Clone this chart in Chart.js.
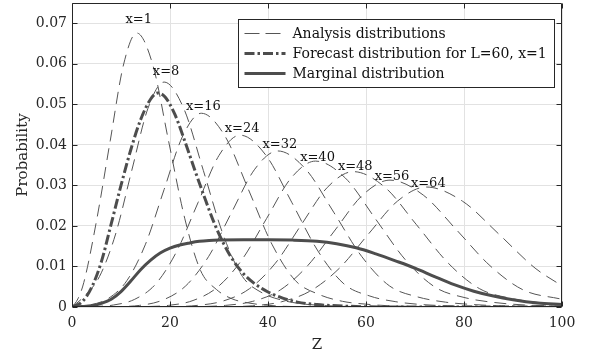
<!DOCTYPE html>
<html lang="en">
<head>
<meta charset="UTF-8">
<title>Analysis and forecast distributions</title>
<script src="https://cdn.jsdelivr.net/npm/chart.js@4"></script>
<style>
  html, body { margin: 0; padding: 0; background: #fff; }
</style>
</head>
<body>
<canvas id="chart" width="590" height="360"></canvas>
<script>
// Analysis distributions, one curve per x (Z values and probabilities)
const xLabels = [1, 8, 16, 24, 32, 40, 48, 56, 64];

const z_x1 = [0, 1.2, 2.4, 5.1, 7.8, 10.5, 13.2, 16.5, 19.7, 23.0, 26.2, 29.5, 32.7, 36.0, 39.2, 45.7, 100];
const p_x1 = [0, 0.0020, 0.0060, 0.0219, 0.0410, 0.0597, 0.0676, 0.0597, 0.0410, 0.0219, 0.0091, 0.0043, 0.0020, 0.0010, 0.0005, 0.0001, 0];

const z_x8 = [0, 2.3, 5.6, 8.9, 12.2, 15.5, 18.8, 22.8, 26.8, 30.8, 34.8, 38.8, 42.8, 46.8, 50.8, 58.8, 100];
const p_x8 = [0, 0.0024, 0.0075, 0.0180, 0.0337, 0.0490, 0.0555, 0.0490, 0.0337, 0.0180, 0.0075, 0.0035, 0.0017, 0.0008, 0.0004, 0.0001, 0];

const z_x16 = [0, 3.6, 7.4, 11.2, 15.0, 18.8, 22.6, 26.4, 31.2, 36.0, 40.8, 45.6, 50.4, 55.2, 60.0, 64.8, 74.4, 100];
const p_x16 = [0, 0.0005, 0.0021, 0.0065, 0.0155, 0.0290, 0.0422, 0.0478, 0.0422, 0.0290, 0.0155, 0.0065, 0.0031, 0.0014, 0.0007, 0.0003, 0.0001, 0];

const z_x24 = [0, 4.2, 8.5, 12.8, 17.1, 21.4, 25.7, 30.0, 34.3, 39.6, 44.9, 50.2, 55.5, 60.8, 66.1, 71.4, 76.7, 87.3, 100];
const p_x24 = [0, 0.0001, 0.0005, 0.0019, 0.0057, 0.0138, 0.0257, 0.0374, 0.0424, 0.0374, 0.0257, 0.0138, 0.0057, 0.0027, 0.0013, 0.0006, 0.0003, 0.0001, 0];

const z_x32 = [0, 9.1, 13.8, 18.5, 23.2, 27.9, 32.6, 37.3, 42.0, 47.7, 53.4, 59.1, 64.8, 70.5, 76.2, 81.9, 87.6, 100];
const p_x32 = [0, 0.0001, 0.0004, 0.0017, 0.0052, 0.0125, 0.0234, 0.0340, 0.0385, 0.0340, 0.0234, 0.0125, 0.0052, 0.0025, 0.0012, 0.0006, 0.0003, 0.0001];

const z_x40 = [0, 14.7, 19.7, 24.7, 29.7, 34.7, 39.7, 44.7, 49.7, 55.8, 61.9, 68.0, 74.1, 80.2, 86.3, 92.4, 100];
const p_x40 = [0, 0.0001, 0.0004, 0.0016, 0.0049, 0.0117, 0.0218, 0.0318, 0.0360, 0.0318, 0.0218, 0.0117, 0.0049, 0.0023, 0.0011, 0.0005, 0.0002];

const z_x48 = [0, 20.3, 25.6, 30.9, 36.2, 41.5, 46.8, 52.1, 57.4, 63.9, 70.3, 76.8, 83.2, 89.7, 96.1, 100];
const p_x48 = [0, 0.0001, 0.0004, 0.0015, 0.0045, 0.0108, 0.0203, 0.0295, 0.0334, 0.0295, 0.0203, 0.0108, 0.0045, 0.0021, 0.0010, 0.0006];

const z_x56 = [0, 25.7, 31.3, 36.9, 42.5, 48.1, 53.7, 59.3, 64.9, 71.7, 78.5, 85.3, 92.1, 100];
const p_x56 = [0, 0.0001, 0.0004, 0.0014, 0.0042, 0.0102, 0.0190, 0.0276, 0.0313, 0.0276, 0.0190, 0.0102, 0.0042, 0.0019];

const z_x64 = [0, 31.0, 36.9, 42.8, 48.7, 54.6, 60.5, 66.4, 72.3, 79.7, 87.1, 94.5, 100];
const p_x64 = [0, 0.0001, 0.0003, 0.0013, 0.0040, 0.0096, 0.0180, 0.0261, 0.0296, 0.0261, 0.0180, 0.0096, 0.0052];

// Forecast distribution for L=60, x=1
const z_forecast = [0, 2, 4, 6, 8, 10, 12, 14, 16, 17.5, 19, 21, 23, 25, 27, 29, 31, 33, 35, 37, 40, 43, 46, 50, 56, 65, 100];
const p_forecast = [0, 0.0012, 0.0048, 0.0112, 0.0205, 0.0300, 0.0388, 0.0462, 0.0512, 0.0528, 0.0518, 0.0475, 0.0410, 0.0340, 0.0272, 0.0208, 0.0155, 0.0113, 0.0082, 0.0060, 0.0037, 0.0022, 0.0012, 0.0006, 0.0002, 0, 0];

// Marginal distribution
const z_marginal = [0, 2, 4, 6, 8, 10, 12, 14, 16, 18, 20, 22, 24, 26, 28, 30, 35, 40, 45, 50, 54, 58, 62, 66, 70, 74, 78, 82, 86, 90, 95, 100];
const p_marginal = [0, 0.0001, 0.0003, 0.0009, 0.0019, 0.0038, 0.0064, 0.0092, 0.0115, 0.0133, 0.0145, 0.0153, 0.0158, 0.0162, 0.0164, 0.0165, 0.0166, 0.0166, 0.0165, 0.0162, 0.0156, 0.0146, 0.0131, 0.0114, 0.0096, 0.0075, 0.0055, 0.0039, 0.0027, 0.0018, 0.0010, 0.0006];

const xTicks = [0, 20, 40, 60, 80, 100];
const yTicks = [0, 0.01, 0.02, 0.03, 0.04, 0.05, 0.06, 0.07];

const analysisCurves = [
  [z_x1, p_x1], [z_x8, p_x8], [z_x16, p_x16], [z_x24, p_x24], [z_x32, p_x32],
  [z_x40, p_x40], [z_x48, p_x48], [z_x56, p_x56], [z_x64, p_x64]
];

const lineColor = '#4d4d4d';
const thinColor = '#555555';
const axisColor = '#262626';
const fontFamily = '"DejaVu Serif", serif';

const toPoints = (zs, ps) => zs.map((z, i) => ({ x: z, y: ps[i] }));

const datasets = [
  {
    label: 'Marginal distribution',
    data: toPoints(z_marginal, p_marginal),
    borderColor: lineColor, borderWidth: 3, order: 0
  },
  {
    label: 'Forecast distribution for L=60, x=1',
    data: toPoints(z_forecast, p_forecast),
    borderColor: lineColor, borderWidth: 3, borderDash: [10, 3, 2.5, 3], order: 1
  }
];
analysisCurves.forEach(([zs, ps], i) => {
  datasets.push({
    label: 'x=' + xLabels[i],
    data: toPoints(zs, ps),
    borderColor: thinColor, borderWidth: 1, borderDash: [12, 7], order: 2
  });
});

const legendItems = [
  { text: 'Analysis distributions', width: 1, dash: [15, 6], color: thinColor },
  { text: 'Forecast distribution for L=60, x=1', width: 3, dash: [10, 3, 2.5, 3], color: lineColor },
  { text: 'Marginal distribution', width: 3, dash: [], color: lineColor }
];

// how far (px) each x= label sits above its curve's peak
const labelLift = [10, 7, 3.5, 3.5, 2.5, 0.5, 1.5, 0.5, 0];

const framePlugin = {
  id: 'frame',
  afterDatasetsDraw(chart) {
    const { ctx, chartArea: a, scales: { x, y } } = chart;
    const L = Math.round(a.left) + 0.5, R = Math.round(a.right) - 0.5;
    const T = Math.round(a.top) + 0.5, B = Math.round(a.bottom) - 0.5;
    ctx.save();
    ctx.setLineDash([]);
    ctx.strokeStyle = axisColor;
    ctx.lineWidth = 1;

    // box and inward ticks on all four sides
    ctx.beginPath();
    ctx.rect(L, T, R - L, B - T);
    xTicks.forEach(v => {
      const px = Math.round(x.getPixelForValue(v)) + 0.5;
      ctx.moveTo(px, B); ctx.lineTo(px, B - 5);
      ctx.moveTo(px, T); ctx.lineTo(px, T + 5);
    });
    yTicks.forEach(v => {
      const py = Math.round(y.getPixelForValue(v)) + 0.5;
      ctx.moveTo(L, py); ctx.lineTo(L + 5, py);
      ctx.moveTo(R, py); ctx.lineTo(R - 5, py);
    });
    ctx.stroke();

    // x= labels above each analysis peak
    ctx.fillStyle = '#111';
    ctx.font = '13px ' + fontFamily;
    ctx.textAlign = 'center';
    ctx.textBaseline = 'alphabetic';
    analysisCurves.forEach(([zs, ps], i) => {
      let k = 0;
      ps.forEach((p, j) => { if (p > ps[k]) k = j; });
      const px = x.getPixelForValue(zs[k]) + 2;
      const py = y.getPixelForValue(ps[k]) - labelLift[i];
      ctx.fillText('x=' + xLabels[i], px, py);
    });

    // legend box
    ctx.font = '14px ' + fontFamily;
    const textW = Math.max(...legendItems.map(it => ctx.measureText(it.text).width));
    const boxW = Math.round(6 + 41 + 7 + textW + 8);
    const boxR = Math.round(a.right) - 7.5;
    const boxL = boxR - boxW;
    const boxT = Math.round(a.top) + 16.5;
    const boxH = 68;
    ctx.fillStyle = '#fff';
    ctx.fillRect(boxL, boxT, boxW, boxH);
    ctx.strokeStyle = axisColor;
    ctx.lineWidth = 1;
    ctx.strokeRect(boxL, boxT, boxW, boxH);

    ctx.textAlign = 'left';
    ctx.textBaseline = 'middle';
    legendItems.forEach((it, i) => {
      const cy = boxT + 14 + i * 20;
      ctx.strokeStyle = it.color;
      ctx.lineWidth = it.width;
      ctx.setLineDash(it.dash);
      ctx.beginPath();
      ctx.moveTo(boxL + 6, cy);
      ctx.lineTo(boxL + 47, cy);
      ctx.stroke();
      ctx.fillStyle = '#111';
      ctx.fillText(it.text, boxL + 54, cy + 1);
    });
    ctx.restore();
  }
};

const tickFont = { family: fontFamily, size: 14 };
const titleFont = { family: fontFamily, size: 15 };

new Chart(document.getElementById('chart'), {
  type: 'line',
  data: { datasets },
  options: {
    responsive: false,
    animation: false,
    devicePixelRatio: 1,
    layout: { padding: { top: 3, right: 28, left: 0, bottom: 0 } },
    elements: {
      point: { radius: 0 },
      line: { cubicInterpolationMode: 'monotone', fill: false }
    },
    plugins: {
      legend: { display: false },
      tooltip: { enabled: false }
    },
    scales: {
      x: {
        type: 'linear',
        min: 0,
        max: 100,
        afterBuildTicks: s => { s.ticks = xTicks.map(v => ({ value: v })); },
        afterFit: s => { s.height = 53; s.paddingLeft = 0; s.paddingRight = 0; },
        ticks: { padding: 8, color: axisColor, font: tickFont, maxRotation: 0 },
        grid: { color: '#e2e2e2', drawTicks: false },
        border: { display: false },
        title: { display: true, text: 'Z', color: axisColor, font: titleFont, padding: { top: 0, bottom: 6 } }
      },
      y: {
        min: 0,
        max: 0.075,
        afterBuildTicks: s => { s.ticks = yTicks.map(v => ({ value: v })); },
        afterFit: s => { s.width = 72; s.paddingTop = 0; s.paddingBottom = 0; },
        ticks: {
          padding: 5,
          color: axisColor,
          font: tickFont,
          callback: v => (v === 0 ? '0' : v.toFixed(2))
        },
        grid: { color: '#e2e2e2', drawTicks: false },
        border: { display: false },
        title: { display: true, text: 'Probability', color: axisColor, font: titleFont, padding: { top: 14, bottom: 0 } }
      }
    }
  },
  plugins: [framePlugin]
});
</script>
</body>
</html>
